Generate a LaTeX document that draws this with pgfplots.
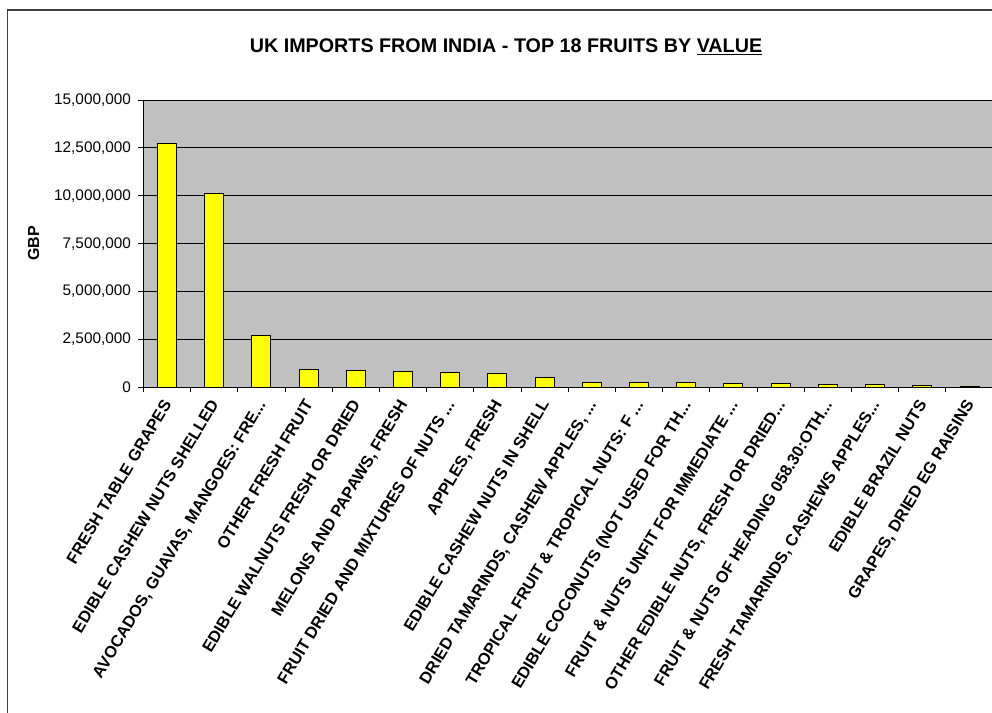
\documentclass[border=0pt]{standalone}
\usepackage{pgfplots}
\pgfplotsset{compat=1.18}
\usepackage{fontspec}
\setmainfont{Liberation Sans}
\definecolor{plotgray}{HTML}{C0C0C0}
\definecolor{baryellow}{HTML}{FFFF00}
\newcommand{\dd}{.\kern0pt.\kern0pt.}
\begin{document}
\begin{tikzpicture}
\useasboundingbox (0pt,0pt) rectangle (744pt,534.75pt);
\begin{scope}
\clip (0pt,0pt) rectangle (744pt,534.75pt);
\draw[line width=1.4pt, black!75] (5.6pt,-15pt) rectangle (765pt,527.25pt);
\end{scope}
\node[font=\fontsize{14.8}{17}\selectfont\bfseries] at (379.5pt,499.5pt) {UK IMPORTS FROM INDIA - TOP 18 FRUITS BY \underline{VALUE}};
\begin{axis}[
  at={(107.475pt,244.275pt)}, anchor=south west, scale only axis,
  width=637.3pt, height=215.5pt,
  xmin=-0.5, xmax=17.5, ymin=0, ymax=15000000,
  ybar, bar width=14.25pt,
  ytick={0,2500000,5000000,7500000,10000000,12500000,15000000},
  scaled y ticks=false,
  yticklabel style={xshift=-2pt, font=\fontsize{11.5}{13}\selectfont, /pgf/number format/fixed, /pgf/number format/1000 sep={,}, /pgf/number format/assume math mode=true},
  ymajorgrids, grid style={black, line width=0.6pt},
  axis background/.style={fill=plotgray},
  axis x line*=bottom, axis y line*=left,
  axis line style={black, line width=0.8pt, -},
  tick align=outside, major tick length=3.75pt,
  tick style={black, line width=0.6pt},
  xtick={-0.5,0.5,1.5,2.5,3.5,4.5,5.5,6.5,7.5,8.5,9.5,10.5,11.5,12.5,13.5,14.5,15.5,16.5,17.5},
  x tick label as interval,
  xticklabels={
    {FRESH TABLE GRAPES},
    {EDIBLE CASHEW NUTS SHELLED},
    {AVOCADOS, GUAVAS, MANGOES: FRE\dd},
    {OTHER FRESH FRUIT},
    {EDIBLE WALNUTS FRESH OR DRIED},
    {MELONS AND PAPAWS, FRESH},
    {FRUIT DRIED AND MIXTURES OF NUTS \dd},
    {APPLES, FRESH},
    {EDIBLE CASHEW NUTS IN SHELL},
    {DRIED TAMARINDS, CASHEW APPLES, \dd},
    {TROPICAL FRUIT \& TROPICAL NUTS: F \dd},
    {EDIBLE COCONUTS (NOT USED FOR TH\dd},
    {FRUIT \& NUTS UNFIT FOR IMMEDIATE \dd},
    {OTHER EDIBLE NUTS, FRESH OR DRIED\dd},
    {FRUIT \& NUTS OF HEADING 058.30:OTH\dd},
    {FRESH TAMARINDS, CASHEWS APPLES\dd},
    {EDIBLE BRAZIL NUTS},
    {GRAPES, DRIED EG RAISINS}},
  xticklabel style={xshift=-4pt, yshift=-3pt, rotate=59, anchor=north east, inner sep=1pt, font=\fontsize{12.3}{14}\selectfont\bfseries},
  ylabel={GBP},
  ylabel style={font=\fontsize{12}{14}\selectfont\bfseries, at={(axis description cs:-0.129,0.5)}, anchor=center},
]
\addplot[fill=baryellow, draw=black, line width=0.6pt] coordinates {
  (0,12750000) (1,10100000) (2,2720000) (3,950000) (4,900000) (5,840000)
  (6,760000) (7,700000) (8,500000) (9,270000) (10,260000) (11,260000)
  (12,210000) (13,200000) (14,150000) (15,150000) (16,80000) (17,70000)
};
\end{axis}
\end{tikzpicture}
\end{document}
